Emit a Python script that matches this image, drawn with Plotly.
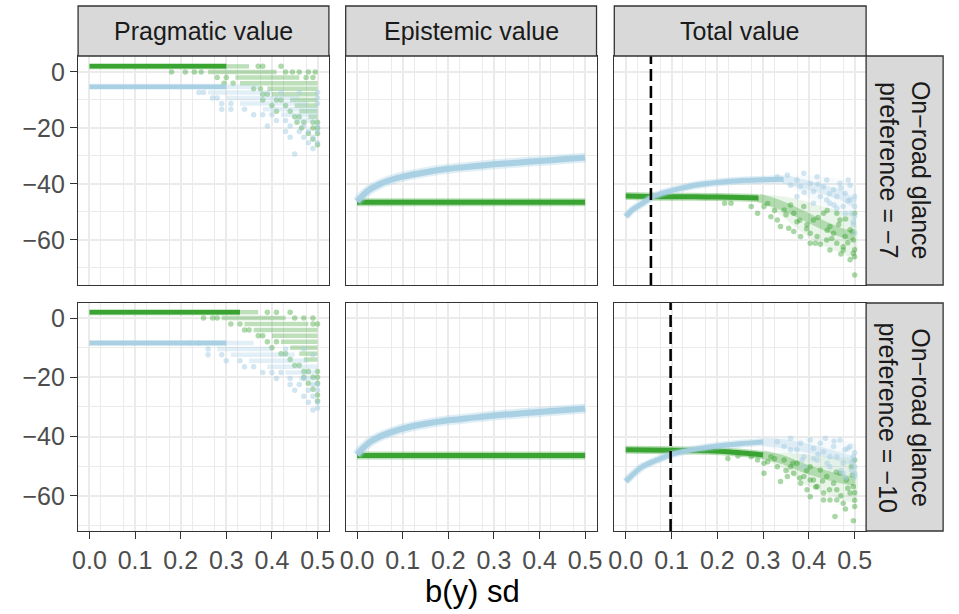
import plotly.graph_objects as go

# ---------------------------------------------------------------- data
facet_cols = ["Pragmatic value", "Epistemic value", "Total value"]
facet_rows = ["On\u2212road glance<br>preference = \u22127",
              "On\u2212road glance<br>preference = \u221210"]
x_ticks = [0.0, 0.1, 0.2, 0.3, 0.4, 0.5]
y_ticks = [0, -20, -40, -60]
decision_sd = [0.055, 0.098]          # dashed threshold per row (Total value)

# Pragmatic value: solid band (level, x_end), dense runs (level, x0, x1), sparse dots
prag_green_band = [(2.0, 0.30), (2.0, 0.33)]
prag_blue_band = [(-5.3, 0.30), (-8.4, 0.30)]
prag_green_runs = [
    [(2, 0.30, 0.35), (0, 0.26, 0.41), (-2, 0.32, 0.46), (-4, 0.33, 0.50),
     (-6, 0.39, 0.50), (-8, 0.40, 0.50), (-10, 0.44, 0.50), (-12, 0.45, 0.50),
     (-14, 0.46, 0.50), (-16, 0.48, 0.50)],
    [(2, 0.33, 0.37), (0, 0.29, 0.43), (-2, 0.34, 0.48), (-4, 0.36, 0.50),
     (-6, 0.40, 0.50), (-8, 0.42, 0.50), (-10, 0.44, 0.50), (-12, 0.46, 0.50),
     (-14, 0.47, 0.50)],
]
prag_blue_runs = [
    [(-5.3, 0.30, 0.37), (-7.3, 0.26, 0.40), (-9.3, 0.30, 0.46), (-11.3, 0.33, 0.48),
     (-13.3, 0.38, 0.50), (-15.3, 0.42, 0.50), (-17.3, 0.45, 0.50)],
    [(-8.4, 0.30, 0.36), (-10.4, 0.28, 0.40), (-12.4, 0.31, 0.45), (-14.4, 0.35, 0.48),
     (-16.4, 0.39, 0.50), (-18.4, 0.43, 0.50), (-20.4, 0.46, 0.50)],
]
prag_green_dots_x = [
    [0.37, 0.38, 0.42, 0.18, 0.21, 0.23, 0.245, 0.43, 0.445, 0.46, 0.48, 0.495, 0.28, 0.30,
     0.475, 0.49, 0.295, 0.315, 0.36, 0.375, 0.38, 0.39, 0.38, 0.41, 0.42, 0.40, 0.43, 0.41,
     0.44, 0.45, 0.46, 0.455, 0.47, 0.49, 0.50, 0.465, 0.49, 0.50, 0.48, 0.50, 0.49, 0.50],
    [0.39, 0.41, 0.44, 0.25, 0.27, 0.28, 0.45, 0.47, 0.49, 0.31, 0.33, 0.49, 0.50, 0.34,
     0.35, 0.37, 0.38, 0.39, 0.41, 0.40, 0.42, 0.43, 0.44, 0.45, 0.46, 0.47, 0.48, 0.50,
     0.47, 0.49, 0.50, 0.48, 0.50, 0.49, 0.50, 0.50],
]
prag_green_dots_y = [
    [2, 2, 2, 0, 0, 0, 0, 0, 0, 0, 0, 0, -2, -2,
     -2, -2, -4, -4, -6, -6, -8, -8, -10, -10, -10, -12, -12, -14,
     -14, -16, -16, -18, -18, -18, -18, -20, -20, -20, -22, -22, -24, -26],
    [2, 2, 2, 0, 0, 0, 0, 0, 0, -2, -2, -2, -2, -4,
     -4, -6, -6, -8, -8, -10, -12, -12, -14, -16, -16, -18, -18, -18,
     -20, -20, -20, -22, -22, -24, -26, -28],
]
prag_blue_dots_x = [
    [0.24, 0.25, 0.42, 0.46, 0.50, 0.27, 0.28, 0.50, 0.29, 0.31, 0.50, 0.29, 0.31, 0.34,
     0.36, 0.38, 0.40, 0.41, 0.43, 0.39, 0.44, 0.47, 0.50, 0.43, 0.46, 0.48, 0.50, 0.44,
     0.47, 0.49, 0.48, 0.50, 0.49, 0.45],
    [0.22, 0.24, 0.26, 0.43, 0.47, 0.26, 0.29, 0.49, 0.30, 0.33, 0.34, 0.36, 0.38, 0.40,
     0.42, 0.41, 0.44, 0.47, 0.50, 0.44, 0.46, 0.49, 0.45, 0.48, 0.50, 0.47, 0.49, 0.50,
     0.48, 0.50, 0.49],
]
prag_blue_dots_y = [
    [-7.3, -7.3, -7.3, -7.3, -7.3, -9.3, -9.3, -9.3, -11.3, -11.3, -11.3, -13.3, -13.3, -13.3,
     -15.3, -15.3, -15.3, -17.3, -17.3, -19.3, -19.3, -19.3, -19.3, -21.3, -21.3, -21.3, -21.3, -23.3,
     -23.3, -23.3, -25.3, -25.3, -27.3, -29.3],
    [-8.4, -8.4, -10.4, -10.4, -10.4, -12.4, -12.4, -12.4, -14.4, -14.4, -16.4, -16.4, -18.4, -18.4,
     -18.4, -20.4, -20.4, -20.4, -22.4, -22.4, -22.4, -22.4, -24.4, -24.4, -24.4, -26.4, -26.4, -28.4,
     -28.4, -30.4, -31.0],
]

# Epistemic value: central band per row
epi_x = [0.0, 0.01, 0.025, 0.05, 0.075, 0.1, 0.15, 0.2, 0.25, 0.3, 0.35, 0.4, 0.45, 0.5]
epi_blue = [
    [-46.3, -44.5, -42.3, -40.0, -38.5, -37.4, -35.8, -34.6, -33.8, -33.0, -32.4, -31.8, -31.2, -30.6],
    [-46.2, -44.4, -42.2, -40.0, -38.5, -37.3, -35.7, -34.5, -33.7, -32.9, -32.3, -31.7, -31.1, -30.5],
]
epi_green_x = [0.0, 0.5]
epi_green = [[-46.5, -46.5], [-46.4, -46.4]]

# Total value: tight band, then the spreading cloud (centre, upper, lower edge) and dots
tot_green_band_x = [[0.0, 0.05, 0.1, 0.15, 0.2, 0.25, 0.29], [0.0, 0.1, 0.18, 0.23, 0.30]]
tot_green_band_y = [[-44.3, -44.5, -44.6, -44.6, -44.7, -44.8, -45.0], [-44.5, -44.6, -44.8, -45.2, -46.2]]
tot_blue_band_x = [[0.0, 0.014, 0.036, 0.058, 0.086, 0.122, 0.158, 0.23, 0.30, 0.345],
                   [0.0, 0.014, 0.036, 0.058, 0.1, 0.144, 0.2, 0.25, 0.30]]
tot_blue_band_y = [[-51.7, -49.3, -47.0, -44.7, -43.0, -41.5, -40.3, -39.0, -38.5, -38.3],
                   [-55.2, -53.0, -50.2, -48.6, -46.0, -44.5, -43.2, -42.4, -41.8]]

tot_green_cloud_x = [[0.29, 0.32, 0.345, 0.39, 0.43, 0.475, 0.5], [0.30, 0.345, 0.39, 0.45, 0.5]]
tot_green_centre = [[-45.0, -46.5, -48.0, -51.4, -54.6, -57.6, -58.8], [-46.2, -47.9, -50.7, -53.5, -55.2]]
tot_green_upper = [[-44.0, -44.0, -44.5, -46.0, -48.0, -50.0, -51.0], [-45.2, -45.5, -46.0, -47.0, -48.0]]
tot_green_lower = [[-46.0, -49.0, -52.0, -58.0, -62.0, -65.0, -67.0], [-47.5, -51.0, -56.0, -60.0, -62.0]]
tot_blue_cloud_x = [[0.345, 0.374, 0.40, 0.432, 0.475, 0.5], [0.30, 0.345, 0.403, 0.46, 0.5]]
tot_blue_centre = [[-38.3, -39.5, -40.5, -42.0, -44.5, -47.0], [-41.8, -42.4, -44.2, -46.5, -48.5]]
tot_blue_upper = [[-37.3, -37.0, -37.0, -37.5, -38.5, -41.0], [-40.8, -40.5, -40.5, -41.0, -42.5]]
tot_blue_lower = [[-39.5, -42.5, -45.0, -48.0, -51.5, -55.0], [-43.0, -45.5, -49.0, -52.5, -54.5]]

tot_green_dots_x = [
    [0.216, 0.230, 0.274, 0.288, 0.302, 0.317, 0.331, 0.338, 0.346, 0.356, 0.367, 0.374, 0.389,
     0.396, 0.403, 0.403, 0.410, 0.418, 0.432, 0.439, 0.446, 0.446, 0.454, 0.461, 0.468, 0.475,
     0.479, 0.490, 0.490, 0.497, 0.500, 0.500, 0.497, 0.475, 0.461, 0.382, 0.367, 0.414,
     0.31, 0.325, 0.35, 0.36, 0.38, 0.395, 0.42, 0.425, 0.44, 0.45, 0.465, 0.47, 0.485, 0.495,
     0.5, 0.5, 0.48, 0.44],
    [0.223, 0.245, 0.274, 0.288, 0.302, 0.302, 0.317, 0.331, 0.338, 0.346, 0.353, 0.360, 0.367,
     0.374, 0.382, 0.389, 0.396, 0.403, 0.403, 0.410, 0.418, 0.425, 0.432, 0.439, 0.446, 0.454,
     0.461, 0.468, 0.475, 0.482, 0.490, 0.493, 0.497, 0.500, 0.500, 0.457, 0.497, 0.461, 0.432,
     0.403, 0.31, 0.325, 0.35, 0.365, 0.38, 0.395, 0.415, 0.43, 0.445, 0.46, 0.47, 0.485,
     0.495, 0.5, 0.5, 0.48],
]
tot_green_dots_y = [
    [-46.9, -46.9, -48.1, -50.5, -48.1, -51.7, -52.9, -55.2, -49.3, -55.8, -50.5, -53.5, -48.1,
     -54.6, -57.6, -61.2, -52.9, -58.8, -50.5, -60.0, -55.2, -63.6, -57.6, -61.2, -52.9, -63.6,
     -58.8, -56.4, -67.1, -60.0, -50.5, -72.5, -64.8, -62.4, -50.5, -58.8, -57.0, -61.2,
     -47.0, -49.5, -51.0, -47.5, -53.0, -56.0, -52.0, -61.5, -56.5, -59.5, -54.5, -65.0, -61.0, -57.0,
     -63.5, -66.0, -52.5, -49.5],
    [-47.4, -46.6, -46.8, -47.9, -49.0, -52.4, -46.8, -50.2, -55.2, -47.9, -53.5, -50.2, -52.4,
     -49.0, -55.8, -53.5, -58.0, -50.2, -60.3, -54.7, -56.9, -51.3, -59.1, -53.5, -61.4, -55.8,
     -58.0, -52.4, -62.5, -54.7, -59.1, -50.2, -56.9, -63.6, -47.9, -67.0, -68.4, -61.4, -61.4,
     -54.7, -48.5, -47.5, -51.5, -49.0, -54.0, -51.5, -57.0, -55.0, -58.0, -52.0, -60.0, -57.5,
     -53.0, -59.0, -61.5, -64.5],
]
tot_blue_dots_x = [
    [0.331, 0.353, 0.374, 0.382, 0.389, 0.403, 0.410, 0.418, 0.425, 0.432, 0.439, 0.446, 0.454,
     0.461, 0.468, 0.475, 0.479, 0.486, 0.490, 0.493, 0.497, 0.500, 0.500, 0.497, 0.461, 0.439,
     0.410, 0.374, 0.36, 0.39, 0.42, 0.445, 0.455, 0.47, 0.48, 0.49, 0.5, 0.5, 0.485],
    [0.331, 0.346, 0.360, 0.374, 0.382, 0.389, 0.403, 0.410, 0.418, 0.425, 0.432, 0.436, 0.446,
     0.454, 0.461, 0.468, 0.475, 0.479, 0.490, 0.493, 0.497, 0.500, 0.500, 0.475, 0.446, 0.410,
     0.389, 0.36, 0.385, 0.42, 0.44, 0.455, 0.47, 0.485, 0.495, 0.5, 0.5, 0.48],
]
tot_blue_dots_y = [
    [-37.4, -36.8, -38.6, -41.0, -36.2, -39.8, -42.7, -37.4, -44.5, -41.0, -38.6, -46.9, -42.1,
     -44.5, -39.8, -48.1, -43.3, -38.6, -45.7, -50.5, -53.5, -44.5, -48.1, -54.6, -48.7, -45.7,
     -46.9, -44.5, -40.5, -43.0, -40.0, -43.5, -47.5, -41.5, -50.5, -40.5, -51.5, -57.5, -46.0],
    [-41.8, -43.4, -40.6, -44.5, -42.3, -46.8, -41.2, -44.0, -47.9, -42.3, -45.1, -40.6, -50.2,
     -43.4, -46.8, -41.2, -49.0, -44.5, -43.4, -51.3, -46.8, -50.2, -53.5, -52.4, -46.8, -47.4,
     -50.2, -44.5, -48.0, -46.0, -49.0, -41.5, -51.5, -44.0, -48.5, -45.5, -52.5, -54.0],
]

# ---------------------------------------------------------------- styling / layout
GREEN_RGB = "51,160,44"
BLUE_RGB = "166,206,227"
FONT = "Liberation Sans, Arial, sans-serif"
W, H = 959, 614
col_px = [(73, 327), (344, 598), (616, 871)]
row_px = [(56, 285), (303, 531)]
strip_top = (6, 56)
strip_right = (871, 949)
x_range = [-0.025, 0.525]
y_ranges = [[-76.1, 5.7], [-71.9, 5.1]]


def px_x(p):
    return p / W


def px_y(p):
    return 1 - p / H


fig = go.Figure()


def axis_ids(r, c):
    i = r * 3 + c + 1
    return ("x" if i == 1 else f"x{i}"), ("y" if i == 1 else f"y{i}")


def add_line(r, c, xs, ys, rgb, alpha, width):
    xa, ya = axis_ids(r, c)
    fig.add_trace(go.Scatter(x=xs, y=ys, mode="lines", xaxis=xa, yaxis=ya,
                             line=dict(color=f"rgba({rgb},{alpha})", width=width, shape="spline",
                                       smoothing=0.6),
                             hoverinfo="skip", showlegend=False))


def add_band(r, c, xs, ys, rgb, core_w, halo_w):
    add_line(r, c, xs, ys, rgb, 0.35, halo_w)
    add_line(r, c, xs, ys, rgb, 0.95, core_w)


def add_runs(r, c, runs, rgb):
    xa, ya = axis_ids(r, c)
    xs, ys = [], []
    for lvl, x0, x1 in runs:
        xs += [x0, x1, None]
        ys += [lvl, lvl, None]
    fig.add_trace(go.Scatter(x=xs, y=ys, mode="lines", xaxis=xa, yaxis=ya,
                             line=dict(color=f"rgba({rgb},0.32)", width=4.5),
                             hoverinfo="skip", showlegend=False))


def add_dots(r, c, xs, ys, rgb, alpha=0.4):
    xa, ya = axis_ids(r, c)
    fig.add_trace(go.Scatter(x=xs, y=ys, mode="markers", xaxis=xa, yaxis=ya,
                             marker=dict(size=5.5, color=f"rgba({rgb},{alpha})", line=dict(width=0)),
                             hoverinfo="skip", showlegend=False))


def add_cloud(r, c, cx, centre, up, lo, rgb):
    xa, ya = axis_ids(r, c)
    fig.add_trace(go.Scatter(x=cx + cx[::-1], y=up + lo[::-1], mode="lines", fill="toself",
                             xaxis=xa, yaxis=ya, line=dict(width=0, shape="spline", smoothing=0.8),
                             fillcolor=f"rgba({rgb},0.10)", hoverinfo="skip", showlegend=False))
    add_line(r, c, cx, centre, rgb, 0.3, 9)


for r in range(2):
    # Pragmatic value
    lvl, xend = prag_green_band[r]
    add_runs(r, 0, prag_green_runs[r], GREEN_RGB)
    add_dots(r, 0, prag_green_dots_x[r], prag_green_dots_y[r], GREEN_RGB)
    add_band(r, 0, [0.0, xend], [lvl, lvl], GREEN_RGB, 4.5, 6)
    lvl, xend = prag_blue_band[r]
    add_runs(r, 0, prag_blue_runs[r], BLUE_RGB)
    add_dots(r, 0, prag_blue_dots_x[r], prag_blue_dots_y[r], BLUE_RGB, 0.5)
    add_band(r, 0, [0.0, xend], [lvl, lvl], BLUE_RGB, 4.5, 6)

    # Epistemic value
    add_band(r, 1, epi_green_x, epi_green[r], GREEN_RGB, 5, 8)
    add_band(r, 1, epi_x, epi_blue[r], BLUE_RGB, 6, 10)

    # Total value
    add_cloud(r, 2, tot_green_cloud_x[r], tot_green_centre[r], tot_green_upper[r],
              tot_green_lower[r], GREEN_RGB)
    add_dots(r, 2, tot_green_dots_x[r], tot_green_dots_y[r], GREEN_RGB, 0.42)
    add_band(r, 2, tot_green_band_x[r], tot_green_band_y[r], GREEN_RGB, 5, 8)
    add_cloud(r, 2, tot_blue_cloud_x[r], tot_blue_centre[r], tot_blue_upper[r],
              tot_blue_lower[r], BLUE_RGB)
    add_dots(r, 2, tot_blue_dots_x[r], tot_blue_dots_y[r], BLUE_RGB, 0.5)
    add_band(r, 2, tot_blue_band_x[r], tot_blue_band_y[r], BLUE_RGB, 5, 8)

    xa, ya = axis_ids(r, 2)
    fig.add_shape(type="line", xref=xa, yref=f"{ya} domain",
                  x0=decision_sd[r], x1=decision_sd[r], y0=0, y1=1, layer="above",
                  line=dict(color="black", width=2.6, dash="12px,5px"))

GRID = "#EBEBEB"
FRAME = "#333333"
TICKFONT = dict(family=FONT, size=25, color="#4D4D4D")

layout = {}
for r in range(2):
    for c in range(3):
        i = r * 3 + c + 1
        xa, ya = axis_ids(r, c)
        xk = "xaxis" if i == 1 else f"xaxis{i}"
        yk = "yaxis" if i == 1 else f"yaxis{i}"
        x0, x1 = col_px[c]
        y0, y1 = row_px[r]
        layout[xk] = dict(
            domain=[px_x(x0), px_x(x1)], anchor=ya, range=x_range,
            tickvals=x_ticks, ticktext=[f"{v:.1f}" for v in x_ticks],
            showticklabels=(r == 1), ticks="outside" if r == 1 else "",
            ticklen=7, tickwidth=1.3, tickcolor=FRAME, tickfont=TICKFONT,
            showgrid=True, gridcolor=GRID, gridwidth=1.6, zeroline=False,
            minor=dict(dtick=0.05, tick0=0.025, showgrid=True, gridcolor=GRID, gridwidth=0.8),
            showline=True, mirror=True, linecolor=FRAME, linewidth=1.3,
        )
        layout[yk] = dict(
            domain=[px_y(y1), px_y(y0)], anchor=xa, range=y_ranges[r],
            tickvals=y_ticks, showticklabels=(c == 0), ticks="outside" if c == 0 else "",
            ticklen=7, tickwidth=1.3, tickcolor=FRAME, tickfont=TICKFONT,
            showgrid=True, gridcolor=GRID, gridwidth=1.6, zeroline=False,
            minor=dict(dtick=10, tick0=-10, showgrid=True, gridcolor=GRID, gridwidth=0.8),
            showline=True, mirror=True, linecolor=FRAME, linewidth=1.3,
        )

shapes = []
annotations = []
for c, name in enumerate(facet_cols):
    x0, x1 = col_px[c]
    shapes.append(dict(type="rect", xref="paper", yref="paper",
                       x0=px_x(x0), x1=px_x(x1), y0=px_y(strip_top[1]), y1=px_y(strip_top[0]),
                       fillcolor="#D9D9D9", line=dict(color=FRAME, width=1.3), layer="above"))
    annotations.append(dict(text=name, xref="paper", yref="paper",
                            x=px_x((x0 + x1) / 2), y=px_y((strip_top[0] + strip_top[1]) / 2),
                            showarrow=False, xanchor="center", yanchor="middle",
                            font=dict(family=FONT, size=25, color="#1A1A1A")))
for r, name in enumerate(facet_rows):
    y0, y1 = row_px[r]
    shapes.append(dict(type="rect", xref="paper", yref="paper",
                       x0=px_x(strip_right[0]), x1=px_x(strip_right[1]), y0=px_y(y1), y1=px_y(y0),
                       fillcolor="#D9D9D9", line=dict(color=FRAME, width=1.3), layer="above"))
    annotations.append(dict(text=name, xref="paper", yref="paper", textangle=90,
                            x=px_x((strip_right[0] + strip_right[1]) / 2), y=px_y((y0 + y1) / 2),
                            showarrow=False, xanchor="center", yanchor="middle",
                            font=dict(family=FONT, size=25, color="#1A1A1A")))
annotations.append(dict(text="b(y) sd", xref="paper", yref="paper",
                        x=px_x((col_px[0][0] + col_px[2][1]) / 2), y=px_y(591),
                        showarrow=False, xanchor="center", yanchor="middle",
                        font=dict(family=FONT, size=31, color="black")))

fig.update_layout(
    width=W, height=H, margin=dict(l=0, r=0, t=0, b=0),
    paper_bgcolor="white", plot_bgcolor="white",
    shapes=list(fig.layout.shapes) + shapes, annotations=annotations,
    showlegend=False, **layout,
)

fig.write_html("out.html")
